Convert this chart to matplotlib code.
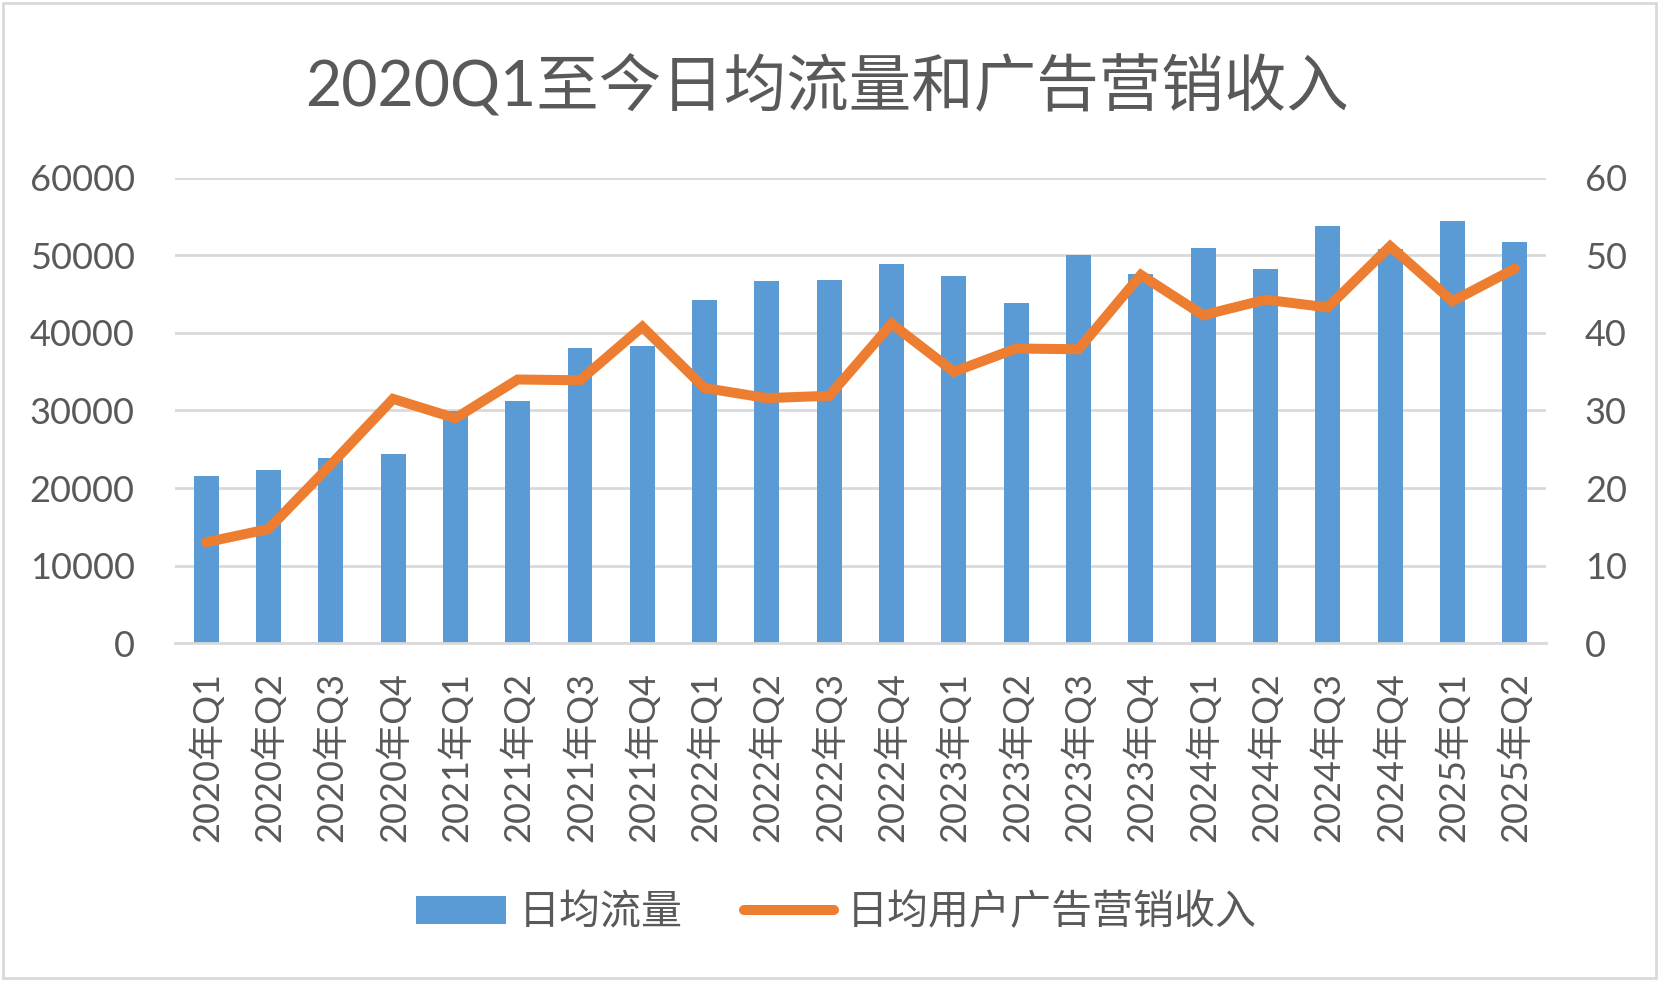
import matplotlib.pyplot as plt
from matplotlib.patches import Rectangle
import numpy as np

plt.rcParams['font.family'] = ['Lato', 'Noto Sans CJK SC', 'DejaVu Sans']

# Data
quarters = ['2020年Q1', '2020年Q2', '2020年Q3', '2020年Q4',
            '2021年Q1', '2021年Q2', '2021年Q3', '2021年Q4',
            '2022年Q1', '2022年Q2', '2022年Q3', '2022年Q4',
            '2023年Q1', '2023年Q2', '2023年Q3', '2023年Q4',
            '2024年Q1', '2024年Q2', '2024年Q3', '2024年Q4',
            '2025年Q1', '2025年Q2']
daily_traffic = [21600, 22300, 23900, 24400, 29900, 31200, 38100, 38300,
                 44200, 46700, 46900, 48900, 47400, 43900, 50100, 47600,
                 51000, 48200, 53800, 50800, 54500, 51700]
ad_revenue = [13.0, 14.7, 23.0, 31.5, 29.0, 34.0, 33.9, 40.8,
              32.9, 31.6, 31.9, 41.2, 35.0, 38.0, 37.9, 47.5,
              42.3, 44.3, 43.3, 51.2, 44.1, 48.3]
left_ticks = [0, 10000, 20000, 30000, 40000, 50000, 60000]
right_ticks = [0, 10, 20, 30, 40, 50, 60]

text_color = '#595959'
grid_color = '#D9D9D9'
bar_color = '#5B9BD5'
line_color = '#ED7D31'

fig = plt.figure(figsize=(16.63, 9.85), dpi=100)
# light border around the chart area
fig.patches.append(Rectangle((0.002, 0.007), 0.994, 0.99, transform=fig.transFigure,
                             fill=False, edgecolor=grid_color, linewidth=2))

ax = fig.add_axes([0.1052, 0.3472, 0.8244, 0.4721])
x = np.arange(len(quarters))
bars = ax.bar(x, daily_traffic, width=0.4, color=bar_color, label='日均流量', zorder=2)

ax.set_xlim(-0.5, len(quarters) - 0.5)
ax.set_ylim(0, 60000)
ax.set_yticks(left_ticks)
ax.set_yticklabels([str(t) for t in left_ticks])
ax.set_xticks(x)
ax.set_xticklabels(quarters, rotation=90)
ax.grid(axis='y', color=grid_color, linewidth=2, zorder=0)
ax.set_axisbelow(True)
for side in ['top', 'left', 'right']:
    ax.spines[side].set_visible(False)
ax.spines['bottom'].set_color(grid_color)
ax.spines['bottom'].set_linewidth(2)
ax.tick_params(axis='y', length=0, pad=29, labelsize=26, labelcolor=text_color)
ax.tick_params(axis='x', length=0, pad=21, labelsize=26, labelcolor=text_color)

ax2 = ax.twinx()
line, = ax2.plot(x, ad_revenue, color=line_color, linewidth=7.2,
                 solid_capstyle='round', solid_joinstyle='miter',
                 label='日均用户广告营销收入')
ax2.set_ylim(0, 60)
ax2.set_yticks(right_ticks)
ax2.set_yticklabels([str(t) for t in right_ticks])
for side in ['top', 'left', 'right', 'bottom']:
    ax2.spines[side].set_visible(False)
ax2.tick_params(axis='y', length=0, pad=28, labelsize=26, labelcolor=text_color)

fig.text(0.4975, 0.912, '2020Q1至今日均流量和广告营销收入', ha='center', va='center',
         fontsize=45, color=text_color)

leg = fig.legend([bars, line], ['日均流量', '日均用户广告营销收入'],
                 loc='center', bbox_to_anchor=(0.503, 0.074), ncol=2,
                 frameon=False, fontsize=29.5, handlelength=2.2,
                 handletextpad=0.3, columnspacing=1.5)
for t in leg.get_texts():
    t.set_color(text_color)

fig.savefig('out.png', dpi=100)
